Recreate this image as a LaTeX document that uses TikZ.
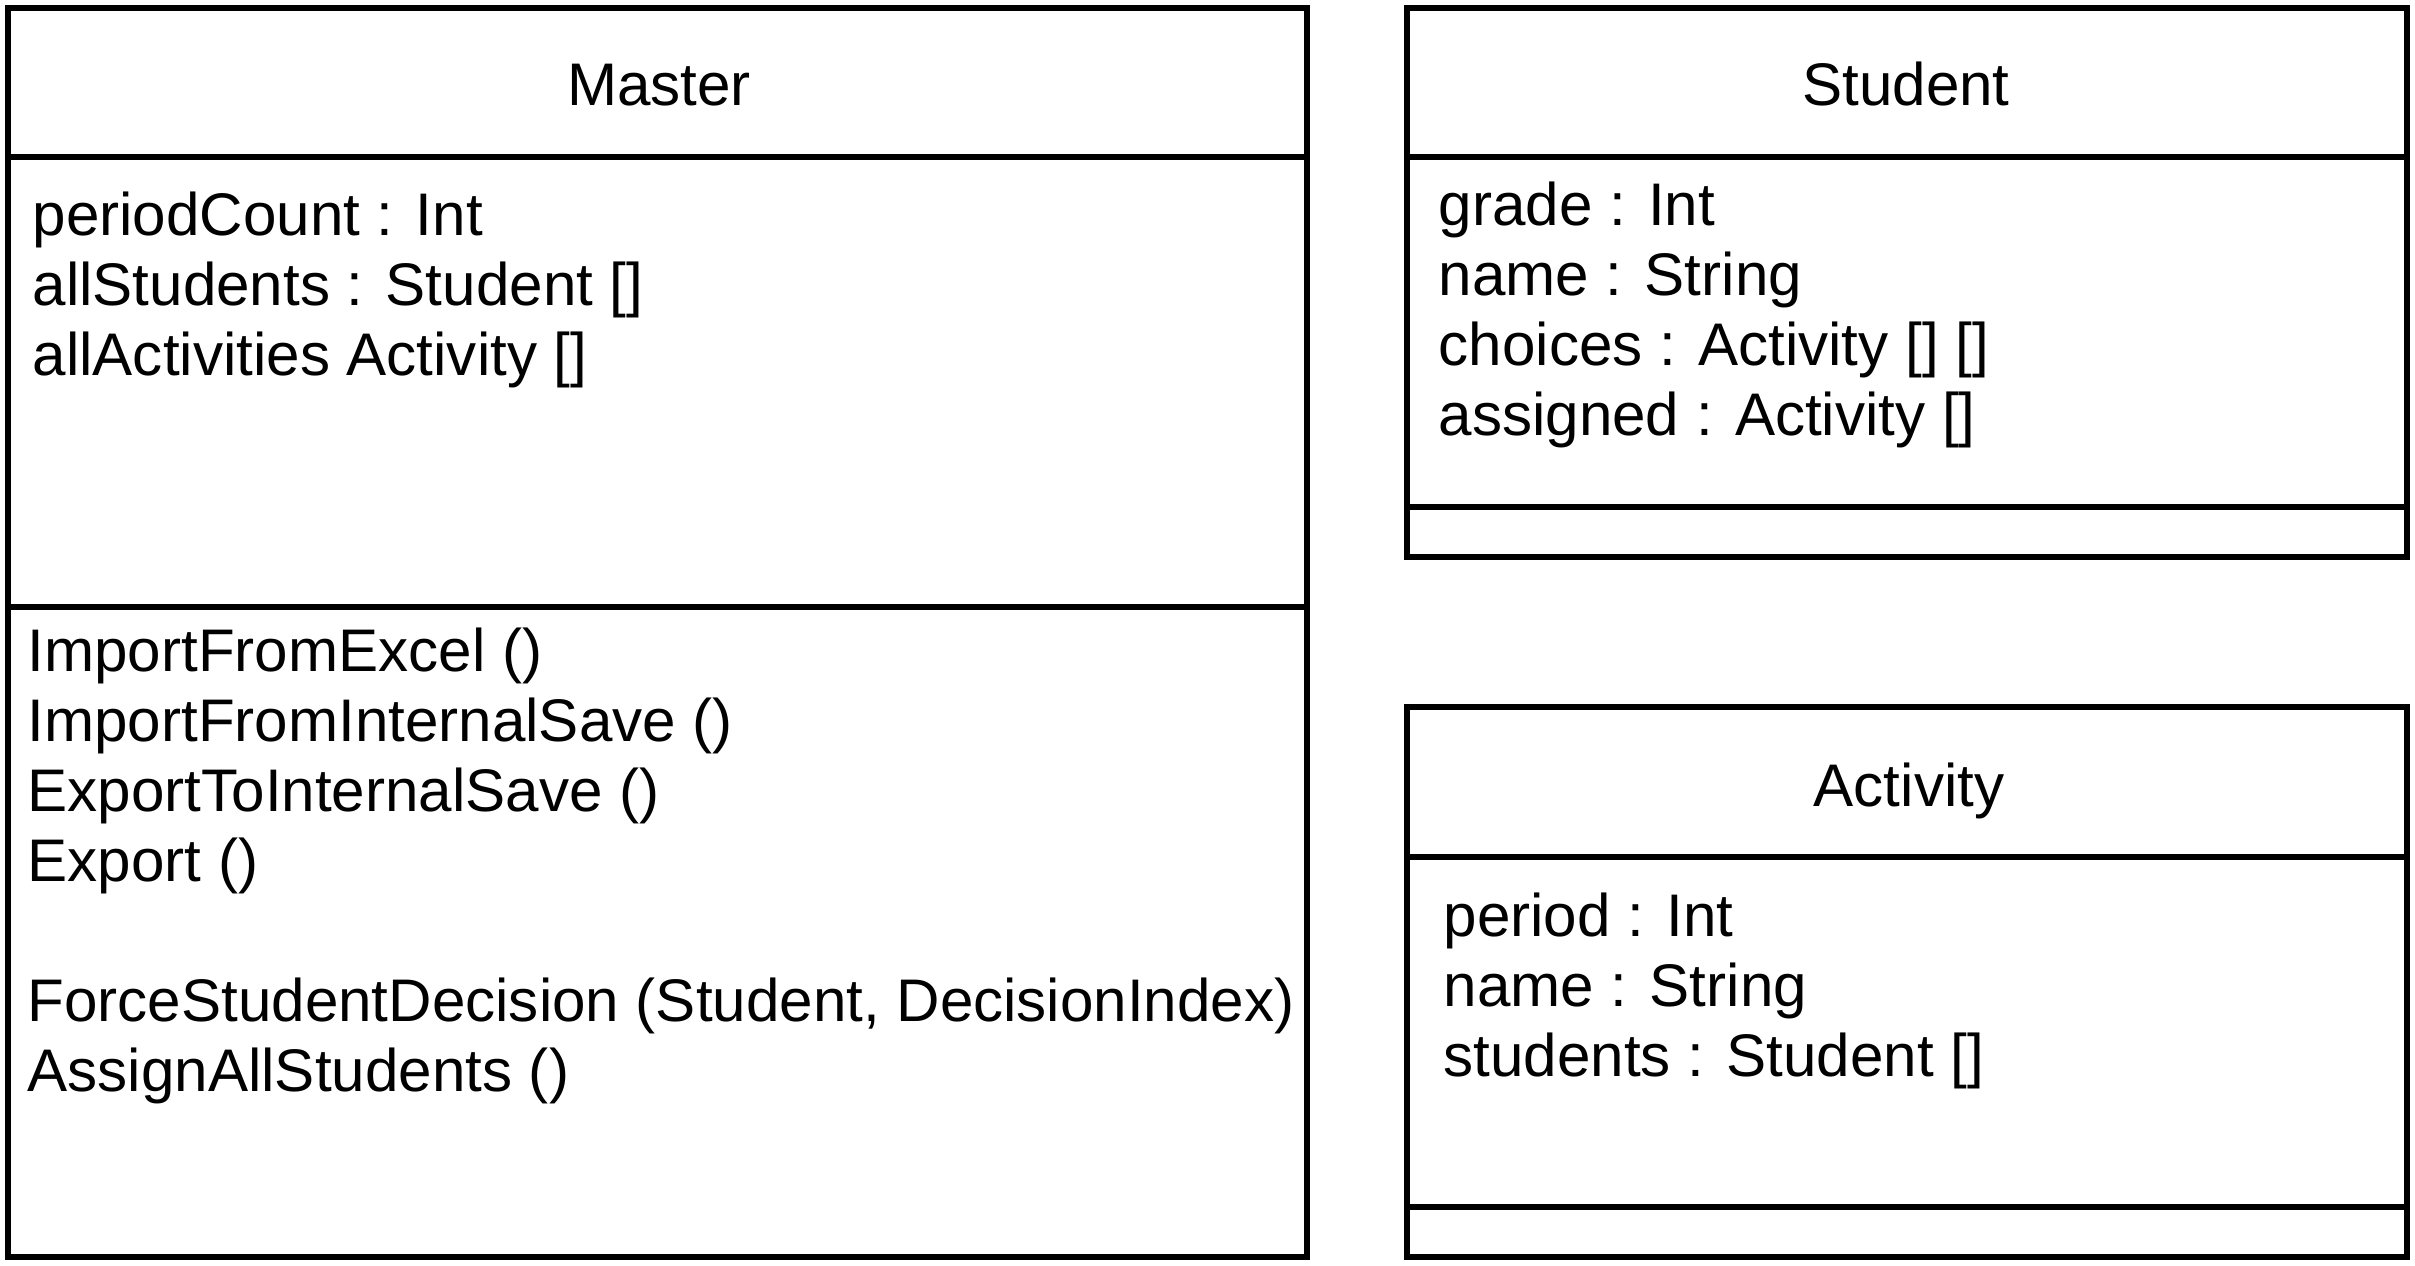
\documentclass[tikz,border=0pt]{standalone}
\usepackage{fontspec}
\setmainfont{Liberation Sans}
\usetikzlibrary{positioning}

\tikzset{
  classbox/.style={draw, line width=1.7pt},
  classname/.style={font=\fontsize{17.1}{19.9}\selectfont, anchor=base, inner sep=0pt},
  % base of a multi-line node is its last line
  members/.style={font=\fontsize{17.1}{19.9}\selectfont, align=left, anchor=base west, inner sep=0pt},
}

\begin{document}
\begin{tikzpicture}[x=0.01cm,y=-0.01cm]
\useasboundingbox (0,0) rectangle (2415,1265);
% Master
\draw[classbox] (8,8) rectangle (1307,1257);
\draw[classbox] (8,157) -- (1307,157);
\draw[classbox] (8,607) -- (1307,607);
\node[classname] (master) at (659,105) {Master};
\node[members] (masterattr) at (32,375) {periodCount : Int\\allStudents : Student []\\allActivities Activity []};
\node[members] (mastermeth) at (27,1091) {ImportFromExcel ()\\ImportFromInternalSave ()\\ExportToInternalSave ()\\Export ()\\[19.9pt]ForceStudentDecision (Student, DecisionIndex)\\AssignAllStudents ()};
% Student
\draw[classbox] (1407,8) rectangle (2407,557);
\draw[classbox] (1407,157) -- (2407,157);
\draw[classbox] (1407,507) -- (2407,507);
\node[classname] (student) at (1906,105) {Student};
\node[members] (studentattr) at (1438,435) {grade : Int\\name : String\\choices : Activity [] []\\assigned : Activity []};
% Activity
\draw[classbox] (1407,707) rectangle (2407,1257);
\draw[classbox] (1407,857) -- (2407,857);
\draw[classbox] (1407,1207) -- (2407,1207);
\node[classname] (activity) at (1909,806) {Activity};
\node[members] (activityattr) at (1443,1076) {period : Int\\name : String\\students : Student []};
\end{tikzpicture}
\end{document}
